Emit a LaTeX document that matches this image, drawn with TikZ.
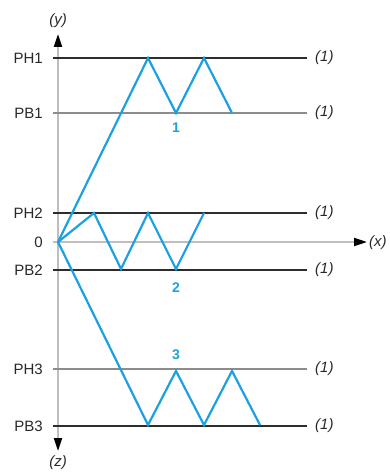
\documentclass[tikz,border=0pt]{standalone}
\usepackage{fontspec}
\setmainfont{Liberation Sans}
\usetikzlibrary{arrows.meta}
\definecolor{zig}{RGB}{27,161,226}
\definecolor{axisgray}{RGB}{190,190,190}
\definecolor{lvlgray}{RGB}{140,140,140}
\definecolor{lvldark}{RGB}{45,45,45}
\definecolor{txt}{RGB}{40,40,40}
\begin{document}
\begin{tikzpicture}[x=1pt,y=-1pt,
  axis/.style={draw=axisgray,line width=2pt,-{Triangle[length=13pt,width=8pt,color=black]}},
  darklvl/.style={draw=lvldark,line width=1.4pt},
  graylvl/.style={draw=lvlgray,line width=1.8pt},
  zz/.style={draw=zig,line width=2.2pt,line join=miter},
  lbl/.style={text=txt,font=\fontsize{15}{17}\selectfont,anchor=east,inner sep=0pt},
  ref/.style={text=txt,font=\fontsize{15}{17}\selectfont\itshape,inner sep=0pt},
  num/.style={text=zig,font=\fontsize{14}{16}\selectfont\bfseries,inner sep=0pt}]
\useasboundingbox (0,0) rectangle (390,473);
% axes
\coordinate (O) at (58,242);
\coordinate (ytip) at (58,34);
\coordinate (ztip) at (58,451);
\coordinate (xtip) at (367,242);
\coordinate (xbeg) at (53,242);
\draw[axis] (O) -- (ytip);
\draw[axis] (O) -- (ztip);
\draw[axis] (xbeg) -- (xtip);
\node[ref] (ylab) at (58,21) {(y)};
\node[ref] (zlab) at (58,463) {(z)};
\node[ref,anchor=west] (xlab) at (369,243) {(x)};
% level lines
\foreach \nm/\yy/\st in {PH1/58/darklvl,PB1/113/graylvl,PH2/213/darklvl,PB2/270/darklvl,PH3/369/graylvl,PB3/426/darklvl}{
  \coordinate (\nm-a) at (53,\yy);
  \coordinate (\nm-b) at (307,\yy);
  \draw[\st] (\nm-a) -- (\nm-b);
  \node[lbl] (\nm-l) at (43,\yy) {\nm};
  \node[ref,anchor=west] (\nm-r) at (315,\yy) {(1)};
}
\node[lbl] (zero-l) at (43,242) {0};
% zigzag 1
\coordinate (a1) at (148,58);
\coordinate (a2) at (176,113);
\coordinate (a3) at (204,58);
\coordinate (a4) at (232,113);
\draw[zz] (O) -- (a1) -- (a2) -- (a3) -- (a4);
\node[num] (n1) at (176,128) {1};
% zigzag 2
\coordinate (b1) at (94,213);
\coordinate (b2) at (121,269);
\coordinate (b3) at (148,213);
\coordinate (b4) at (176,269);
\coordinate (b5) at (204,213);
\draw[zz] (O) -- (b1) -- (b2) -- (b3) -- (b4) -- (b5);
\node[num] (n2) at (176,288) {2};
% zigzag 3
\coordinate (c1) at (148,425);
\coordinate (c2) at (176,371);
\coordinate (c3) at (204,425);
\coordinate (c4) at (232,371);
\coordinate (c5) at (260,425);
\draw[zz] (O) -- (c1) -- (c2) -- (c3) -- (c4) -- (c5);
\node[num] (n3) at (176,355) {3};
\end{tikzpicture}
\end{document}
